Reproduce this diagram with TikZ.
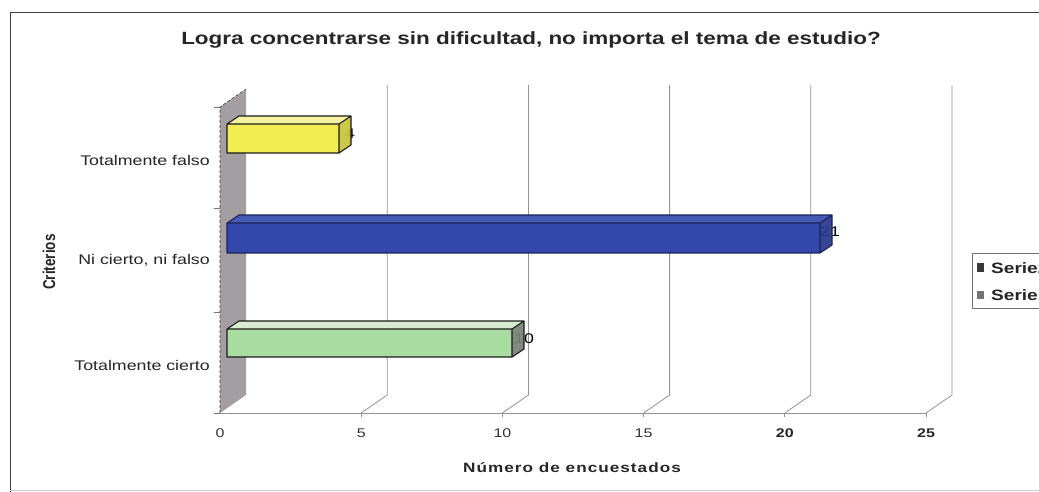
\documentclass[tikz,border=0pt]{standalone}
\usepackage{fontspec}
\setmainfont{Liberation Sans}
\usepackage{graphicx}
\newcommand{\hs}[1]{\scalebox{1.27}[1]{#1}}
\definecolor{yfront}{RGB}{240,236,82}
\definecolor{ytop}{RGB}{246,243,160}
\definecolor{yside}{RGB}{200,196,60}
\definecolor{bfront}{RGB}{52,72,172}
\definecolor{btop}{RGB}{70,90,180}
\definecolor{bside}{RGB}{40,56,140}
\definecolor{bedge}{RGB}{25,35,90}
\definecolor{gfront}{RGB}{168,220,160}
\definecolor{gtop}{RGB}{215,236,208}
\definecolor{gside}{RGB}{120,130,118}
\definecolor{wallgray}{RGB}{163,158,162}
\newcommand{\cbar}[5]{%
  \fill[#5front] (#1,#2) rectangle (#3,#4);
  \fill[#5top] (#1,#2) -- ({#1+12},{#2-8}) -- ({#3+12},{#2-8}) -- (#3,#2) -- cycle;
}
\newcommand{\cside}[5]{%
  \fill[#5side,opacity=0.93] (#3,#2) -- ({#3+12},{#2-8}) -- ({#3+12},{#4-8}) -- (#3,#4) -- cycle;
}
\newcommand{\cedge}[5]{%
  \draw[#5,line width=1.1pt,line join=round] (#1,#2) rectangle (#3,#4)
    (#1,#2) -- ({#1+12},{#2-8}) -- ({#3+12},{#2-8}) -- (#3,#2)
    ({#3+12},{#2-8}) -- ({#3+12},{#4-8}) -- (#3,#4);
}
\begin{document}
\begin{tikzpicture}[x=1pt,y=-1pt,
  grid/.style={draw=black!42,line width=0.8pt},
  txt/.style={inner sep=0pt,font=\fontsize{14}{16}\selectfont},
  tick/.style={inner sep=0pt,font=\fontsize{12.6}{14}\selectfont,text=black!80},
  ]
\useasboundingbox (0,0) rectangle (1039,492);
\fill[white] (0,0) rectangle (1039,492);
% frame
\draw[black!75,line width=1pt] (1045,13) -- (10,13) -- (10,496);
\draw[black!20,line width=0.8pt] (10,490) -- (1045,490);
% title
\node[inner sep=0pt,font=\bfseries\fontsize{17.7}{20}\selectfont,text=black!85] (title) at (531,40)
  {\hs{Logra concentrarse sin dificultad, no importa el tema de estudio?}};
% gridlines
\foreach \k in {1,...,5} {
  \draw[grid] ({246+\k*141.2},85) -- ({246+\k*141.2},395) -- ({220+\k*141.2},413);
  \draw[grid] ({220+\k*141.2},413) -- ({220+\k*141.2},417);
}
\draw[grid] (220,413) -- (926,413);
% tick labels
\node[tick] (x0) at (220,433) {\hs{0}};
\node[tick] (x5) at (361.2,433) {\hs{5}};
\node[tick] (x10) at (502.4,433) {\hs{10}};
\node[tick] (x15) at (643.6,433) {\hs{15}};
\node[tick,font=\bfseries\fontsize{12.6}{14}\selectfont,text=black!85] (x20) at (784.8,433) {\hs{20}};
\node[tick,font=\bfseries\fontsize{12.6}{14}\selectfont,text=black!85] (x25) at (926,433) {\hs{25}};
% wall
\fill[wallgray] (220,413) -- (246,395) -- (246,89) -- (220,107) -- cycle;
\draw[black!75,densely dashed,line width=0.6pt] (220,413) -- (220,107) -- (246,89);
\foreach \yy in {107,208,312,413} \draw[black!55,line width=0.6pt] (214,\yy) -- (220,\yy);
% bars
\cbar{227}{124}{339}{153}{y}
\cbar{227}{223}{820}{253}{b}
\cbar{227}{329}{512}{357}{g}
% data labels
\node[txt] (v4) at (350,134) {\hs{4}};
\node[txt] (v21) at (830,232) {\hs{21}};
\node[txt] (v10) at (524,339) {\hs{10}};
\cside{227}{124}{339}{153}{y}
\cside{227}{223}{820}{253}{b}
\cside{227}{329}{512}{357}{g}
\cedge{227}{124}{339}{153}{black!90}
\cedge{227}{223}{820}{253}{bedge}
\cedge{227}{329}{512}{357}{black!90}
% category labels
\node[txt,anchor=east,text=black!85] (c1) at (210,160) {\hs{Totalmente falso}};
\node[txt,anchor=east,text=black!85] (c2) at (210,260) {\hs{Ni cierto, ni falso}};
\node[txt,anchor=east,text=black!85] (c3) at (210,365) {\hs{Totalmente cierto}};
% axis titles
\node[inner sep=0pt,rotate=90,font=\bfseries\fontsize{13.5}{15}\selectfont,text=black!85] (ytitle) at (49,262)
  {\scalebox{1}[1.27]{Criterios}};
\node[inner sep=0pt,font=\bfseries\fontsize{13.5}{15}\selectfont\addfontfeature{LetterSpace=6},text=black!85] (xtitle) at (572,468)
  {\hs{Número de encuestados}};
% legend
\draw[black!55,line width=0.7pt] (972,253) rectangle (1070,308);
\fill[black!78] (977,263) rectangle (984,272);
\fill[black!55] (977,291) rectangle (984,299);
\node[txt,anchor=west,font=\bfseries\fontsize{15}{17}\selectfont,text=black!85] (l2) at (991,268) {\hs{Serie2}};
\node[txt,anchor=west,font=\bfseries\fontsize{15}{17}\selectfont,text=black!85] (l1) at (991,295) {\hs{Serie1}};
\end{tikzpicture}
\end{document}
